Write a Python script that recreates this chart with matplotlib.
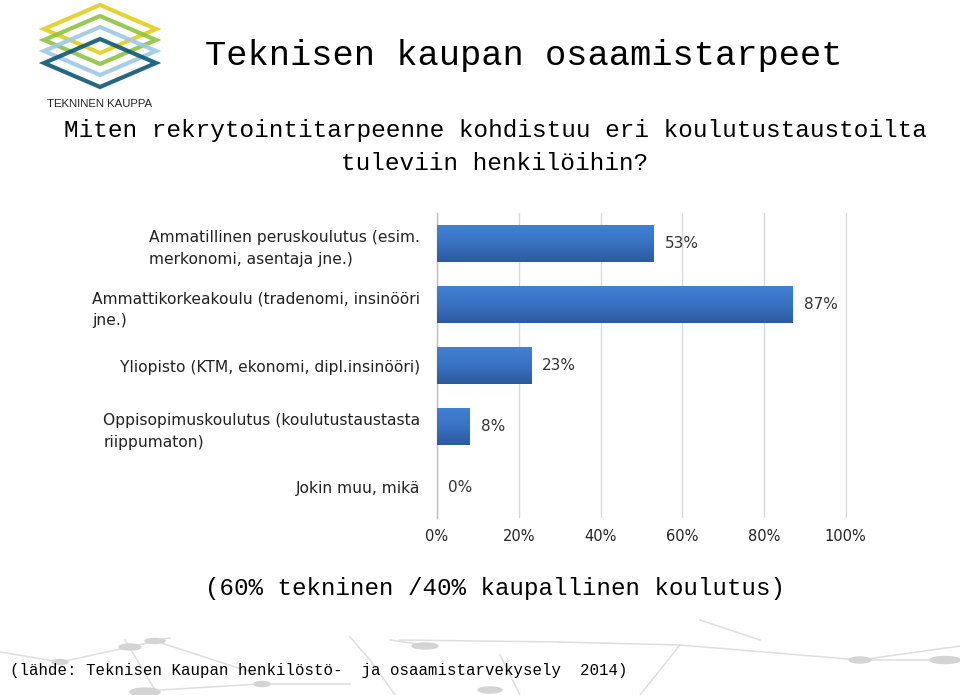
import matplotlib
matplotlib.use('Agg')
import matplotlib.pyplot as plt
import numpy as np
from matplotlib.patches import Polygon, Ellipse
from matplotlib.lines import Line2D

# ── Data ──────────────────────────────────────────────────────────────────────
categories = [
    'Ammatillinen peruskoulutus (esim.\nmerkonomi, asentaja jne.)',
    'Ammattikorkeakoulu (tradenomi, insinööri\njne.)',
    'Yliopisto (KTM, ekonomi, dipl.insinööri)',
    'Oppisopimuskoulutus (koulutustaustasta\nriippumaton)',
    'Jokin muu, mikä',
]
values = [53, 87, 23, 8, 0]
xticks = [0, 20, 40, 60, 80, 100]
xtick_labels = ['0%', '20%', '40%', '60%', '80%', '100%']

TITLE = 'Teknisen kaupan osaamistarpeet'
SUB1 = 'Miten rekrytointitarpeenne kohdistuu eri koulutustaustoilta'
SUB2 = 'tuleviin henkilöihin?'
NOTE = '(60% tekninen /40% kaupallinen koulutus)'
SOURCE = '(lähde: Teknisen Kaupan henkilöstö-  ja osaamistarvekysely  2014)'

MONO = ['Liberation Mono', 'DejaVu Sans Mono']
SANS = ['DejaVu Sans']

fig = plt.figure(figsize=(9.6, 6.95), dpi=100, facecolor='white')

# ── decorative network in footer ─────────────────────────────────────────────
deco = fig.add_axes([0, 0, 1, 1], zorder=0)
deco.set_xlim(0, 960)
deco.set_ylim(695, 0)
deco.axis('off')
segs = [
    ((0, 652), (60, 662)), ((60, 662), (130, 647)), ((130, 647), (155, 641)),
    ((155, 641), (260, 675)), ((125, 640), (155, 690)), ((150, 641), (170, 638)),
    ((160, 690), (260, 684)), ((260, 684), (350, 684)), ((350, 637), (370, 660)),
    ((370, 660), (395, 695)), ((400, 640), (560, 642)), ((390, 640), (425, 645)),
    ((560, 642), (680, 645)), ((680, 645), (640, 695)), ((680, 645), (860, 660)),
    ((860, 660), (960, 660)), ((860, 660), (960, 646)), ((500, 655), (520, 695)),
    ((700, 620), (760, 640)),
]
for (x0, y0), (x1, y1) in segs:
    deco.add_line(Line2D([x0, x1], [y0, y1], color='#dedede', lw=1.1, zorder=0))
for (cx, cy, w, h) in [(130, 647, 22, 6), (155, 641, 20, 5), (60, 662, 16, 5),
                       (145, 692, 30, 8), (262, 684, 16, 5), (425, 646, 26, 6),
                       (490, 690, 24, 6), (860, 660, 22, 6), (945, 660, 30, 7)]:
    deco.add_patch(Ellipse((cx, cy), w, h, color='#d4d4d4', zorder=0))

# ── logo ──────────────────────────────────────────────────────────────────────
logo = fig.add_axes([0, 0, 1, 1], zorder=1)
logo.set_xlim(0, 960)
logo.set_ylim(695, 0)
logo.axis('off')
logo.patch.set_alpha(0)
for top, col in [(5, '#e3cf1f'), (16, '#8dc43f'), (27, '#9cc9e8'), (39, '#0e5877')]:
    cy = top + 24
    logo.add_patch(Polygon([(100, top), (156, cy), (100, top + 48), (44, cy)],
                           closed=True, fill=False, ec=col, lw=3.0, alpha=0.9,
                           joinstyle='miter'))
logo.text(100, 104, 'TEKNINEN KAUPPA', ha='center', va='center',
          fontsize=8.2, family=['Liberation Sans'], color='#222222')

# ── titles ────────────────────────────────────────────────────────────────────
fig.text(524 / 960, 1 - 56 / 695, TITLE, ha='center', va='center',
         fontsize=25.5, family=MONO, color='black')
fig.text(495 / 960, 1 - 131 / 695, SUB1, ha='center', va='center',
         fontsize=17.6, family=MONO, color='black')
fig.text(495 / 960, 1 - 163 / 695, SUB2, ha='center', va='center',
         fontsize=17.6, family=MONO, color='black')
fig.text(495 / 960, 1 - 589 / 695, NOTE, ha='center', va='center',
         fontsize=17.4, family=MONO, color='black')
fig.text(10 / 960, 1 - 671 / 695, SOURCE, ha='left', va='center',
         fontsize=11.3, family=MONO, color='black')

# ── bar chart ─────────────────────────────────────────────────────────────────
ax = fig.add_axes([437 / 960, 1 - 518 / 695, 410 / 960, 305 / 695], zorder=2)
ax.patch.set_alpha(0)
y = np.arange(len(categories))
bars = ax.barh(y, values, height=0.62, color='#3a6fbf', zorder=3)

# vertical gradient on each bar (lighter on top)
grad = np.linspace(0, 1, 64).reshape(-1, 1)
cmap = matplotlib.colors.LinearSegmentedColormap.from_list(
    'barg', ['#2c5a9e', '#3a72c2', '#4181d6'])
for b in bars:
    if b.get_width() <= 0:
        continue
    x0, y0 = b.get_x(), b.get_y()
    w, h = b.get_width(), b.get_height()
    im = ax.imshow(grad, cmap=cmap, aspect='auto', zorder=4,
                   extent=(x0, x0 + w, y0, y0 + h), origin='upper')
    im.set_clip_path(b)

ax.bar_label(bars, labels=[f'{v}%' for v in values], padding=8,
             fontsize=11, color='#333333', family=SANS, zorder=5)

ax.set_xlim(0, 100.3)
ax.set_ylim(len(categories) - 0.5, -0.5)
ax.set_xticks(xticks)
ax.set_xticklabels(xtick_labels, fontsize=10.5, family=SANS, color='#222222')
ax.set_yticks(y)
ax.set_yticklabels(categories, fontsize=11.2, family=SANS, color='#222222',
                   ma='left', linespacing=1.6)
ax.tick_params(axis='x', length=0, pad=8)
ax.tick_params(axis='y', length=0, pad=12)
ax.xaxis.grid(True, color='#d9d9d9', lw=1.0, zorder=0)
ax.set_axisbelow(True)
for s in ('top', 'right', 'bottom'):
    ax.spines[s].set_visible(False)
ax.spines['left'].set_color('#bdbdbd')
ax.spines['left'].set_linewidth(1.0)

fig.savefig('out.png', dpi=100, facecolor='white')
